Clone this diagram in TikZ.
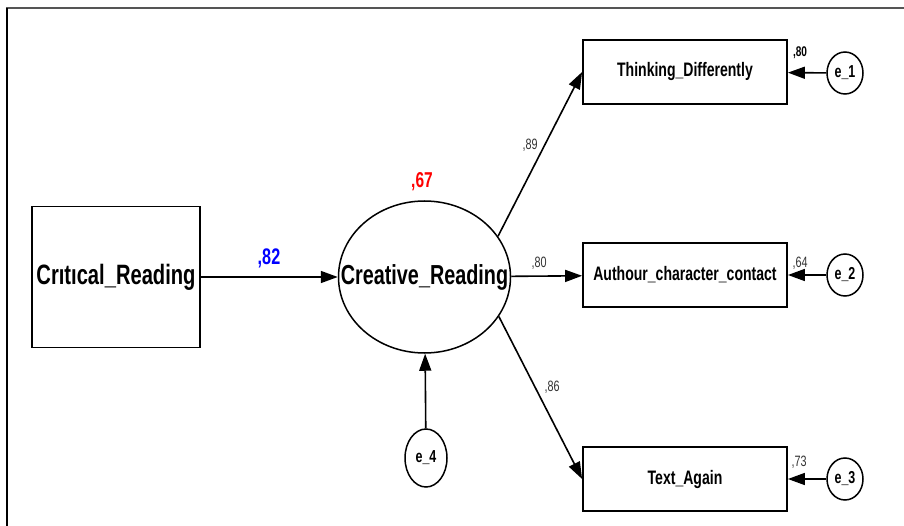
\documentclass[tikz,border=0pt]{standalone}
\usepackage{fontspec}
\setmainfont{Liberation Sans}
\newfontfamily\nar[FakeStretch=0.72]{Liberation Sans}
\usetikzlibrary{shapes.geometric,arrows.meta}
\definecolor{lblgray}{HTML}{333333}
\definecolor{framegray}{HTML}{555555}
\tikzset{
  obs/.style={draw, line width=1.8pt, rectangle, inner sep=0pt, font=\nar\bfseries\fontsize{19.5}{21}\selectfont},
  lat/.style={draw, line width=1.5pt, ellipse, inner sep=0pt},
  err/.style={draw, line width=1.5pt, ellipse, inner sep=0pt, minimum width=36pt, minimum height=42pt, font=\nar\bfseries\fontsize{17.3}{19}\selectfont},
  path/.style={line width=1.6pt, -{Triangle[length=17pt,width=12pt]}},
  coef/.style={inner sep=0pt, text=lblgray, font=\nar\fontsize{15}{17}\selectfont},
}
\begin{document}
\begin{tikzpicture}[x=1pt,y=-1pt]
\useasboundingbox (0,0) rectangle (904,526);
\fill[white] (0,0) rectangle (904,526);
% frame
\draw[framegray, line width=2pt] (6,8) -- (904,8);
\draw[black, line width=2pt] (7,8) -- (7,526);
% nodes
\node[obs, minimum width=168pt, minimum height=141pt, font=\nar\bfseries\fontsize{28}{30}\selectfont] (crit) at (116,277) {Crıtıcal\_Reading};
\node[lat, minimum width=172pt, minimum height=152pt,
      label={[inner sep=0pt, font=\nar\bfseries\fontsize{27.5}{30}\selectfont]center:Creative\_Reading}] (creative) at (424.5,277) {};
\node[obs, minimum width=204pt, minimum height=64pt] (think) at (685,72) {Thinking\_Differently};
\node[obs, minimum width=204pt, minimum height=64pt] (auth) at (685,275) {Authour\_character\_contact};
\node[obs, minimum width=204pt, minimum height=64pt] (text) at (685,479) {Text\_Again};
\node[err] (e1) at (845,73) {e\_1};
\node[err] (e2) at (845,275) {e\_2};
\node[err] (e3) at (845,479) {e\_3};
\node[err, minimum width=42pt, minimum height=58pt] (e4) at (426,458) {e\_4};
% connectors
\draw[path] (crit) -- (creative);
\draw[path] (creative.29) -- (think.west);
\draw[path] (creative) -- (auth);
\draw[path] (creative.-28) -- (text.west);
\draw[path] (e1) -- (think);
\draw[path] (e2) -- (auth);
\draw[path] (e3) -- (text);
\draw[path] (e4) -- (creative);
% labels
\node[inner sep=0pt, text=blue, font=\nar\bfseries\fontsize{22.5}{24}\selectfont] (l82) at (269,258) {,82};
\node[inner sep=0pt, text=red, font=\nar\bfseries\fontsize{21.5}{23}\selectfont] (l67) at (422,182) {,67};
\node[coef] (l89) at (530,145) {,89};
\node[coef] (l80m) at (539,263) {,80};
\node[coef] (l86) at (552,387) {,86};
\node[inner sep=0pt, font=\nar\bfseries\fontsize{14}{16}\selectfont] (l80) at (800,53) {,80};
\node[coef] (l64) at (800,263) {,64};
\node[coef] (l73) at (799,462) {,73};
\end{tikzpicture}
\end{document}
